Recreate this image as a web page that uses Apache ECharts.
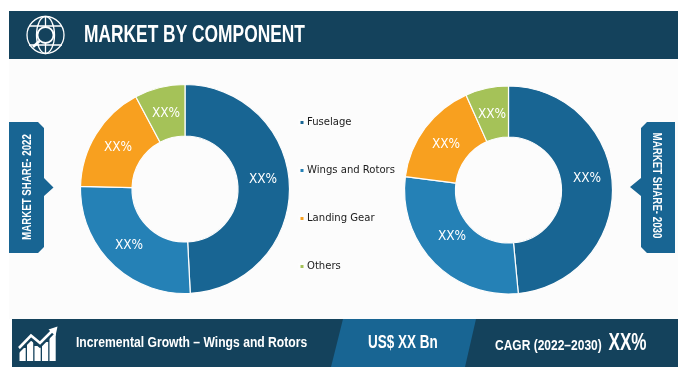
<!DOCTYPE html>
<html><head><meta charset="utf-8">
<style>html,body{margin:0;padding:0;background:#fff}#c{width:687px;height:381px}</style>
<script src="https://cdn.jsdelivr.net/npm/echarts@6/dist/echarts.min.js"></script>
</head><body><div id="c"></div>
<script>
const categories = ['Fuselage','Wings and Rotors','Landing Gear','Others'];
const share2022 = [49.2, 26.2, 16.8, 7.8];
const share2030 = [48.5, 28.55, 16.25, 6.7];
const sliceLabel = 'XX%';
const labelAt2022 = [[263,179],[129,245],[118,147],[166,113]];
const labelAt2030 = [[587,178],[452,236],[446,144],[492,114]];
const colors = ['#186593','#2581b6','#f8a01f','#a5c258'];
const NAVY='#14425c', BLUE='#186593';
const FONT='"Liberation Sans",sans-serif';
const COND='"DejaVu Sans Condensed","Liberation Sans",sans-serif';
const chart = echarts.init(document.getElementById('c'),null,{renderer:'canvas'});
function pie(center,radius,vals,at){return {
  type:'pie',center,radius,startAngle:90,clockwise:true,silent:true,
  label:{show:true,position:'inside',formatter:sliceLabel,color:'#fff',fontSize:13.5,fontFamily:COND},
  labelLine:{show:false},
  itemStyle:{borderColor:'#fdfdfd',borderWidth:1.2},
  labelLayout:p=>({x:at[p.dataIndex][0],y:at[p.dataIndex][1],align:'center',verticalAlign:'middle'}),
  data:categories.map((n,i)=>({name:n,value:vals[i],itemStyle:{color:colors[i]}}))
};}
const txt=(x,y,t,size,sx,extra={})=>({type:'text',x,y,scaleX:sx,rotation:extra.rotation||0,z:10,style:{text:t,fill:'#fff',font:`bold ${size}px ${FONT}`,textAlign:extra.align||'left',textVerticalAlign:'middle'}});
const poly=(points,fill,z=1)=>({type:'polygon',z,shape:{points},style:{fill}});
const W={stroke:'#fff',fill:'none',lineWidth:1.3};
chart.setOption({
  animation:false,
  backgroundColor:'#fff',
  legend:{orient:'vertical',left:298.5,top:115.5,padding:0,itemWidth:5,itemHeight:5,itemGap:34,icon:'rect',
    selectedMode:false,textStyle:{color:'#1c1c1c',fontSize:11.2,fontFamily:COND,padding:[0,0,0,-2.5],lineHeight:14,height:14},
    data:categories},
  series:[pie([185,189],[53,104.5],share2022,labelAt2022),pie([508.5,190],[53,104],share2030,labelAt2030)],
  graphic:[
    {type:'rect',z:0,shape:{x:9,y:59,width:669,height:260},style:{fill:'#fcfcfc'}},
    {type:'rect',z:1,shape:{x:9,y:11,width:669,height:48},style:{fill:NAVY}},
    // globe and magnifier icon
    {type:'circle',z:5,shape:{cx:45.5,cy:35,r:18.5},style:W},
    {type:'ellipse',z:5,shape:{cx:45.5,cy:35,rx:9,ry:18.5},style:W},
    {type:'line',z:5,shape:{x1:29,y1:26,x2:62,y2:26},style:W},
    {type:'line',z:5,shape:{x1:29,y1:45,x2:62,y2:45},style:W},
    {type:'line',z:5,shape:{x1:45.5,y1:16.5,x2:45.5,y2:53.5},style:W},
    {type:'circle',z:6,shape:{cx:45.5,cy:35,r:8},style:{stroke:'#fff',fill:NAVY,lineWidth:1.8}},
    {type:'line',z:6,shape:{x1:39.5,y1:41,x2:33,y2:47},style:{stroke:'#fff',lineWidth:2.6}},
    txt(84,36,'MARKET BY COMPONENT',23,0.755),
    // side tabs
    poly([[9,122],[38,122],[44,128],[44,178],[53.5,187.5],[44,196],[44,247],[38,253],[9,253]],BLUE),
    txt(27,187,'MARKET SHARE- 2022',13.5,0.72,{rotation:Math.PI/2,align:'center'}),
    poly([[675,122],[647,122],[641,128],[641,178],[630,187],[641,196],[641,247],[647,253],[675,253]],BLUE),
    txt(657,185.5,'MARKET SHARE- 2030',13.5,0.72,{rotation:-Math.PI/2,align:'center'}),
    // footer
    {type:'rect',z:1,shape:{x:12,y:319,width:666,height:48},style:{fill:NAVY}},
    poly([[343,319],[476,319],[465,367],[331,367]],BLUE,2),
    // growth icon
    ...[[19.5,348],[27,340],[34.5,346],[42,342],[49.5,334]].map(b=>({type:'rect',z:5,shape:{x:b[0],y:b[1],width:6.2,height:361-b[1]},style:{fill:'#fff'}})),
    {type:'polyline',z:6,shape:{points:[[19,348],[31,335.5],[40,343],[53,330]]},style:{stroke:'#fff',fill:'none',lineWidth:2.6}},
    {type:'polyline',z:5,shape:{points:[[15,355],[31,339],[40,346.5],[58,328]]},style:{stroke:NAVY,fill:'none',lineWidth:2.6}},
    poly([[48.5,329.5],[57.5,326.5],[55.5,336]],'#fff',6),
    txt(76,343,'Incremental Growth – Wings and Rotors',15.5,0.783),
    txt(368,343,'US$ XX Bn',18,0.75),
    txt(495,346,'CAGR (2022–2030)',15,0.8),
    txt(608.5,344,'XX%',23,0.745),
  ]
});
</script></body></html>
